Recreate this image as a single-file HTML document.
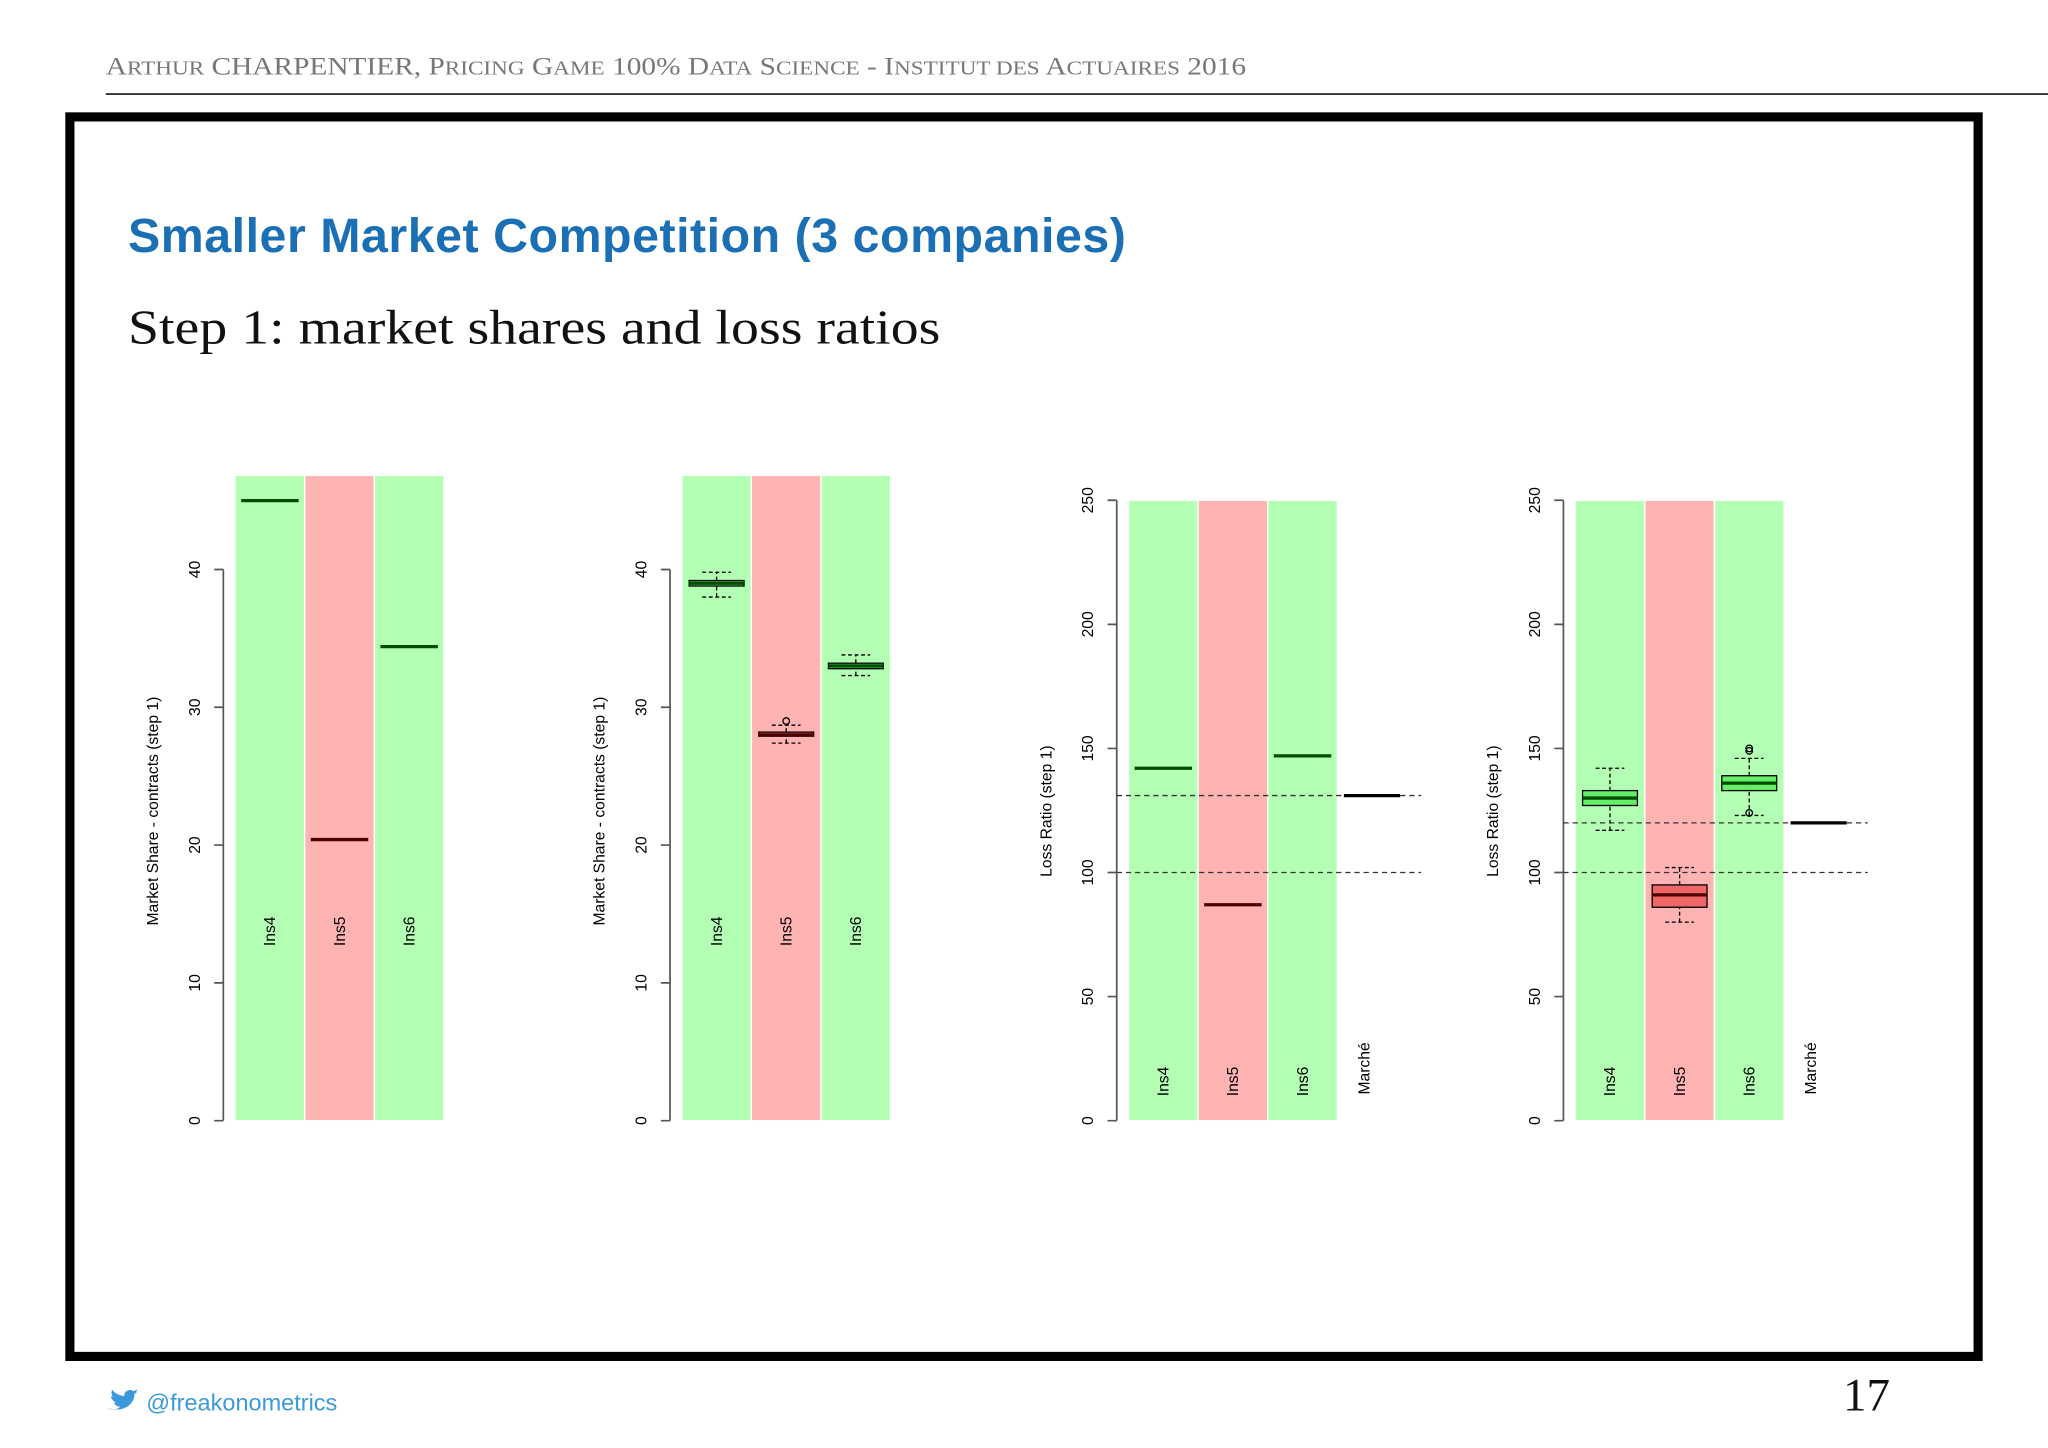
<!DOCTYPE html>
<html><head><meta charset="utf-8"><style>
html,body{margin:0;padding:0;background:#fff;}
svg{display:block;}
</style></head><body>
<svg id="s" width="2048" height="1448" viewBox="0 0 1568 1108.6" xmlns="http://www.w3.org/2000/svg">
<text x="81" y="57" textLength="873" lengthAdjust="spacingAndGlyphs" font-family="Liberation Serif, serif" font-size="19" fill="#777">A<tspan font-size="15">RTHUR</tspan> CHARPENTIER, P<tspan font-size="15">RICING</tspan> G<tspan font-size="15">AME</tspan> 100% D<tspan font-size="15">ATA</tspan> S<tspan font-size="15">CIENCE</tspan> - I<tspan font-size="15">NSTITUT DES</tspan> A<tspan font-size="15">CTUAIRES</tspan> 2016</text>
<line x1="81" y1="72" x2="1568" y2="72" stroke="#333" stroke-width="1.5"/>
<rect x="53.5" y="89.5" width="1461" height="949" fill="none" stroke="#000" stroke-width="7"/>
<text x="98" y="193" textLength="764" lengthAdjust="spacing" font-family="Liberation Sans, sans-serif" font-weight="bold" font-size="37" fill="#1a6fb5">Smaller Market Competition (3 companies)</text>
<text x="98" y="263" textLength="622" lengthAdjust="spacingAndGlyphs" font-family="Liberation Serif, serif" font-size="37" fill="#111">Step 1: market shares and loss ratios</text>
<g id="charts"></g>
<path d="M82 1078 c4 2 8 1 10 -1 c-3 0 -4 -2 -5 -3 c1 0 2 0 2 0 c-2 -1 -4 -3 -4 -5 c1 0 2 1 2 1 c-2 -2 -2 -4 -1 -6 c2 3 5 4 9 5 c0 -4 4 -6 7 -4 c1 0 2 -1 3 -1 c0 1 -1 2 -2 2 c1 0 2 0 2 -1 c0 1 -1 2 -2 2 c0 8 -8 15 -21 11z" fill="#3a9ad9"/>
<text x="112" y="1080" font-family="Liberation Sans, sans-serif" font-size="18" fill="#3a9ad9">@freakonometrics</text>
<text x="1447" y="1080" text-anchor="end" font-family="Liberation Serif, serif" font-size="36" fill="#111">17</text>
</svg>
<script>
// Chart data
const cats = ["Ins4","Ins5","Ins6"];
const share1 = [45.0, 20.4, 34.4];
const share2Box = [[38.0,38.8,39.0,39.2,39.8],[27.4,27.9,28.0,28.2,28.7],[32.3,32.8,33.0,33.2,33.8]];
const share2Out = [[],[29.0],[]];
const loss3 = [142, 87, 147];
const loss3Market = 131;
const loss4Box = [[117,127,130,133,142],[80,86,91,95,102],[123,133,136,139,146]];
const loss4Out = [[],[],[150,149,124]];
const loss4Market = 120;
const shareTicks = [0,10,20,30,40];
const lossTicks = [0,50,100,150,200,250];
const bandColors = ["#b3ffb3","#ffb3b3","#b3ffb3"];
const boxFill = ["#66ee66","#ee6666","#66ee66"];
const medCol = ["#004d00","#4d0000","#004d00"];

const NS="http://www.w3.org/2000/svg";
const G=document.getElementById('charts');
function mk(tag,attrs,parent){const e=document.createElementNS(NS,tag);for(const k in attrs)e.setAttribute(k,attrs[k]);(parent||G).appendChild(e);return e;}

function panel(ax, yMin, yMax, pxTop, axisTop, ticks, ylabel, kind, vals, market, outs, dashedEnd, hasMarket){
  const y0=858, y1=pxTop;
  const yS=v=>y0-(v-yMin)/(yMax-yMin)*(y0-y1);
  const g=mk('g',{});
  
  
  const bw=53.3;
  cats.forEach((c,i)=>{
    const x=ax+9+i*bw;
    const r=mk('rect',{x:x,y:axisTop,width:bw,height:y0-axisTop,fill:bandColors[i],stroke:'#fff','stroke-width':1},g);
    
    
    const t=mk('text',{transform:`translate(${x+bw/2+4},${hasMarket?828:713}) rotate(-90)`,'text-anchor':'middle','font-family':'Liberation Sans, sans-serif','font-size':12,fill:'#000'},g);
    t.textContent=c;
    
    
    const cx=x+bw/2;
    if(kind==='line'){
      const l=mk('line',{x1:cx-22,x2:cx+22,y1:yS(vals[i]),y2:yS(vals[i]),stroke:medCol[i],'stroke-width':2.5},g);
      
      
    } else {
      const b=vals[i];
      const wk=mk('path',{d:`M${cx} ${yS(b[0])}V${yS(b[1])}M${cx} ${yS(b[3])}V${yS(b[4])}M${cx-11} ${yS(b[0])}H${cx+11}M${cx-11} ${yS(b[4])}H${cx+11}`,stroke:'#000','stroke-width':1,'stroke-dasharray':'3,2',fill:'none'},g);
      
      
      const bx=mk('rect',{x:cx-21,y:yS(b[3]),width:42,height:Math.max(1,yS(b[1])-yS(b[3])),fill:boxFill[i],stroke:'#000','stroke-width':1},g);
      
      
      const md=mk('line',{x1:cx-21,x2:cx+21,y1:yS(b[2]),y2:yS(b[2]),stroke:medCol[i],'stroke-width':2.5},g);
      
      
      (outs[i]||[]).forEach(o=>{
        const oc=mk('circle',{cx:cx,cy:yS(o),r:2.5,fill:'none',stroke:'#000','stroke-width':1},g);
        
        
      });
    }
  });
  const tMax=ticks[ticks.length-1];
  const al=mk('path',{d:`M${ax} ${yS(ticks[0])}V${yS(tMax)}`+ticks.map(t=>`M${ax} ${yS(t)}H${ax-7}`).join(''),stroke:'#555','stroke-width':1.3,fill:'none'},g);
  
  
  ticks.forEach(t=>{
    const tl=mk('text',{transform:`translate(${ax-18},${yS(t)}) rotate(-90)`,'text-anchor':'middle','font-family':'Liberation Sans, sans-serif','font-size':12,fill:'#000'},g);
    tl.textContent=t;
    
    
  });
  const yl=mk('text',{transform:`translate(${ax-50},621) rotate(-90)`,'text-anchor':'middle','font-family':'Liberation Sans, sans-serif','font-size':12,fill:'#000'},g);
  yl.textContent=ylabel;
  
  
  if(hasMarket){
    const mx=ax+9+3*bw;
    const mt=mk('text',{transform:`translate(${mx+bw/2-2},818) rotate(-90)`,'text-anchor':'middle','font-family':'Liberation Sans, sans-serif','font-size':12,fill:'#000'},g);
    mt.textContent='Marché';
    
    
    [market,100].forEach(v=>{
      const d=mk('line',{x1:ax,x2:dashedEnd,y1:yS(v),y2:yS(v),stroke:'#333','stroke-width':1,'stroke-dasharray':'4,3'},g);
      
      
    });
    const ml=mk('line',{x1:mx+5,x2:mx+48,y1:yS(market),y2:yS(market),stroke:'#000','stroke-width':2.5},g);
    
    
  }
}
panel(171,0,40,436,364,shareTicks,'Market Share - contracts (step 1)','line',share1,null,null,0,false);
panel(513,0,40,436,364,shareTicks,'Market Share - contracts (step 1)','box',share2Box,null,share2Out,0,false);
panel(855,0,250,383,383,lossTicks,'Loss Ratio (step 1)','line',loss3,loss3Market,null,1088,true);
panel(1197,0,250,383,383,lossTicks,'Loss Ratio (step 1)','box',loss4Box,loss4Market,loss4Out,1430,true);
</script>
</body></html>
